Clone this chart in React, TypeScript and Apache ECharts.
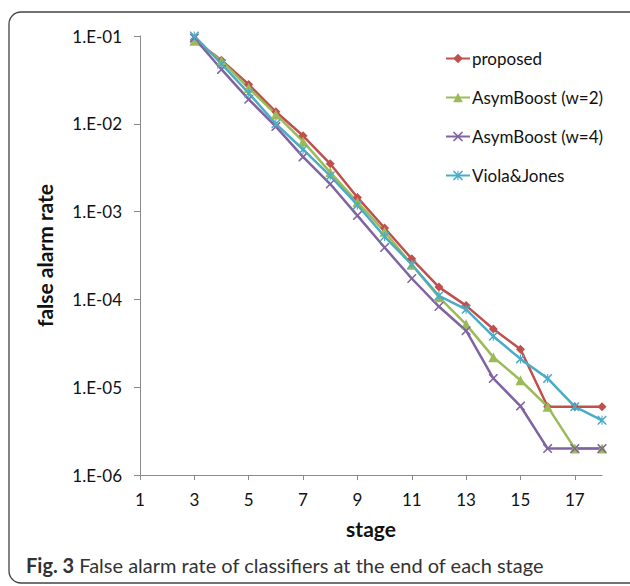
import React, { useEffect, useRef } from "react";
import * as echarts from "echarts";

const stages = ["1","2","3","4","5","6","7","8","9","10","11","12","13","14","15","16","17","18"];
const proposed = [null, null, 0.09, 0.053, 0.028, 0.0137, 0.0073, 0.0035, 0.00145, 0.00065, 0.00029, 0.000138, 0.000085, 0.000046, 0.000027, 0.000006, 0.000006, 0.000006];
const asym2 = [null, null, 0.088, 0.052, 0.0255, 0.0128, 0.0063, 0.0028, 0.00128, 0.00059, 0.000248, 0.000106, 0.000052, 0.000022, 0.000012, 0.000006, 0.000002, 0.000002];
const asym4 = [null, null, 0.095, 0.0416, 0.019, 0.0093, 0.0042, 0.00206, 0.0009, 0.00039, 0.000173, 0.000083, 0.000044, 0.0000126, 0.0000061, 0.000002, 0.000002, 0.000002];
const viola = [null, null, 0.1, 0.048, 0.0224, 0.01, 0.0051, 0.00255, 0.00119, 0.00052, 0.00025, 0.00011, 0.000077, 0.000038, 0.000021, 0.0000126, 0.000006, 0.0000042];
const seriesNames = ["proposed", "AsymBoost (w=2)", "AsymBoost (w=4)", "Viola&Jones"];
const colors = ["#C0504D", "#9BBB59", "#8064A2", "#4BACC6"];

const crossPath = "path://M0,0 L1.2,0 L5,3.8 L8.8,0 L10,0 L10,1.2 L6.2,5 L10,8.8 L10,10 L8.8,10 L5,6.2 L1.2,10 L0,10 L0,8.8 L3.8,5 L0,1.2 Z";
const starPath = crossPath + " M4.4,0 L5.6,0 L5.6,10 L4.4,10 Z";

export default function App() {
  const ref = useRef<HTMLDivElement>(null);
  useEffect(() => {
    const chart = echarts.init(ref.current!, null, { renderer: "svg" });
    const font = "Lato, 'Open Sans', sans-serif";
    const mk = (name: string, data: any[], color: string, symbol: string, size: number) => ({
      name,
      type: "line",
      data,
      symbol,
      symbolSize: size,
      showSymbol: true,
      connectNulls: false,
      lineStyle: { color, width: 2.5 },
      itemStyle: { color, borderWidth: 0 },
    });
    chart.setOption({
      animation: false,
      backgroundColor: "#ffffff",
      textStyle: { fontFamily: font },
      grid: { left: 140, right: 28, top: 36, bottom: 111, containLabel: false },
      legend: {
        orient: "vertical",
        left: 440,
        top: 45,
        itemWidth: 24,
        itemHeight: 12,
        itemGap: 22,
        textStyle: { fontSize: 17, color: "#111", fontFamily: font, padding: [0, 0, 0, -3] },
        data: seriesNames,
      },
      xAxis: {
        type: "category",
        data: stages,
        boundaryGap: false,
        name: "stage",
        nameLocation: "middle",
        nameGap: 43,
        nameTextStyle: { fontSize: 21, fontWeight: "bold", color: "#111", fontFamily: font },
        axisLine: { show: true, lineStyle: { color: "#8a8a8a", width: 1 } },
        axisTick: { show: true, interval: 1, length: 5, lineStyle: { color: "#8a8a8a" } },
        axisLabel: { interval: 1, fontSize: 17, color: "#111", margin: 16, fontFamily: font },
        splitLine: { show: false },
      },
      yAxis: {
        type: "log",
        logBase: 10,
        min: 1e-6,
        max: 1e-1,
        splitNumber: 5,
        name: "false alarm rate",
        nameLocation: "middle",
        nameRotate: 90,
        nameGap: 85,
        nameTextStyle: { fontSize: 21, fontWeight: "bold", color: "#111", fontFamily: font },
        axisLine: { show: true, lineStyle: { color: "#8a8a8a", width: 1 } },
        axisTick: { show: true, length: 6, lineStyle: { color: "#8a8a8a" } },
        axisLabel: {
          fontSize: 17,
          color: "#111",
          margin: 18,
          fontFamily: font,
          formatter: (v: number) => {
            const e = Math.round(Math.log10(v));
            return "1.E-" + String(-e).padStart(2, "0");
          },
        },
        splitLine: { show: false },
      },
      series: [
        mk(seriesNames[0], proposed, colors[0], "diamond", 9),
        mk(seriesNames[1], asym2, colors[1], "triangle", 10),
        mk(seriesNames[2], asym4, colors[2], crossPath, 9),
        mk(seriesNames[3], viola, colors[3], starPath, 9),
      ],
      graphic: [
        {
          type: "rect",
          z: -1,
          shape: { x: 9, y: 12, width: 650, height: 571, r: 12 },
          style: { fill: "none", stroke: "#444", lineWidth: 1.3 },
        },
        {
          type: "text",
          left: 26,
          top: 555,
          style: {
            text: "{b|Fig. 3} False alarm rate of classifiers at the end of each stage",
            fontSize: 20,
            fontFamily: font,
            fill: "#333",
            rich: {
              b: { fontSize: 20, fontWeight: "bold", fontFamily: font, fill: "#333" },
            },
          },
        },
      ],
    });
    return () => chart.dispose();
  }, []);
  return <div ref={ref} style={{ position: "fixed", left: 0, top: 0, width: 630, height: 586 }} />;
}
